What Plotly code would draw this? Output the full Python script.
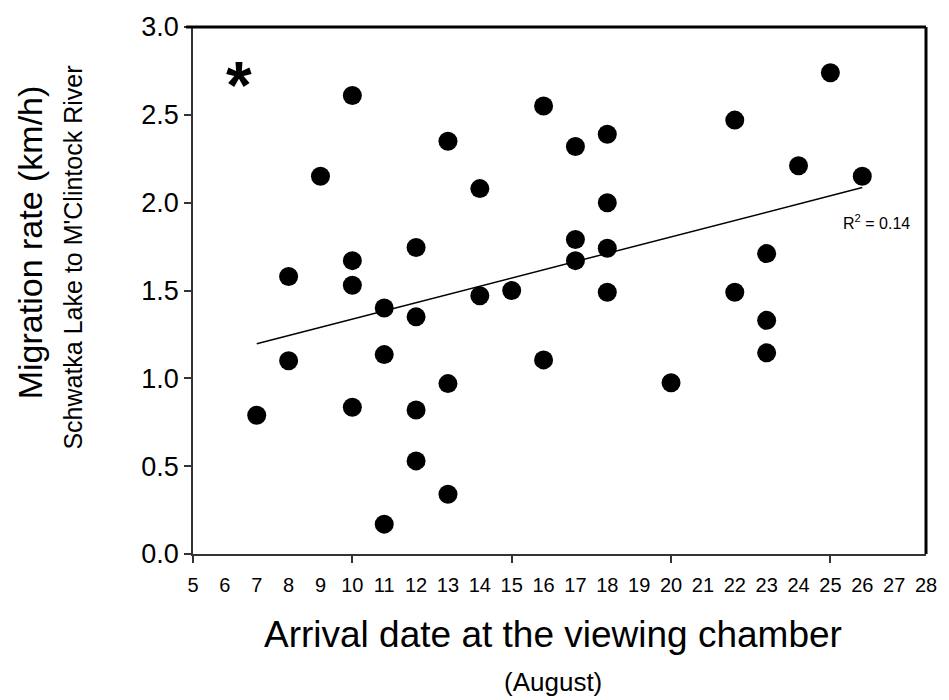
import plotly.graph_objects as go

# Arrival date (August day) and migration rate (km/h)
arrival_day = [7, 8, 8, 9, 10, 10, 10, 10, 11, 11, 11, 12, 12, 12, 12,
               13, 13, 13, 14, 14, 15, 16, 16, 17, 17, 17, 18, 18, 18, 18,
               20, 22, 22, 23, 23, 23, 24, 25, 26]
migration_rate = [0.79, 1.58, 1.10, 2.15, 2.61, 1.67, 1.53, 0.835, 1.40, 1.135, 0.17,
                  1.745, 1.35, 0.82, 0.53, 2.35, 0.97, 0.34, 2.08, 1.47, 1.50,
                  2.55, 1.105, 2.32, 1.79, 1.67, 2.39, 2.00, 1.74, 1.49,
                  0.975, 2.47, 1.49, 1.71, 1.33, 1.145, 2.21, 2.74, 2.15]

# Regression line end points
trend_x = [7, 26]
trend_y = [1.197, 2.086]

x_tick_labels = [str(d) for d in range(5, 29)]
x_major_ticks = [5, 10, 15, 20, 25]
y_ticks = [0.0, 0.5, 1.0, 1.5, 2.0, 2.5, 3.0]

FONT = "Liberation Sans, Arial, sans-serif"

fig = go.Figure()
fig.add_trace(go.Scatter(x=trend_x, y=trend_y, mode="lines",
                         line=dict(color="black", width=1.5), showlegend=False,
                         hoverinfo="skip"))
fig.add_trace(go.Scatter(x=arrival_day, y=migration_rate, mode="markers",
                         marker=dict(color="black", size=19, line=dict(width=0)),
                         showlegend=False))
fig.add_trace(go.Scatter(x=trend_x, y=trend_y, mode="lines", xaxis="x2",
                         line=dict(color="rgba(0,0,0,0)", width=0), showlegend=False,
                         hoverinfo="skip"))

fig.update_layout(
    width=949, height=700,
    margin=dict(l=193, r=12, t=20, b=146),
    paper_bgcolor="white", plot_bgcolor="white",
    font=dict(family=FONT, color="black"),
    xaxis=dict(range=[5, 28], tickmode="array",
               tickvals=list(range(5, 29)), ticktext=x_tick_labels,
               ticks="", showgrid=False, zeroline=False,
               showline=True, linecolor="#333", linewidth=1.5,
               tickfont=dict(size=20, family=FONT, color="black"),
               ticklabelstandoff=12),
    xaxis2=dict(range=[5, 28], overlaying="x", matches="x", side="bottom",
                tickmode="array", tickvals=x_major_ticks, showticklabels=False,
                ticks="outside", ticklen=8, tickwidth=1.5, tickcolor="#333",
                showgrid=False, zeroline=False, showline=False),
    yaxis=dict(range=[0, 3.0], tickmode="array", tickvals=y_ticks,
               ticktext=[f"{v:.1f}" for v in y_ticks],
               ticks="outside", ticklen=7, tickwidth=1.5, tickcolor="#333",
               showgrid=False, zeroline=False,
               showline=True, linecolor="#333", linewidth=1.5,
               tickfont=dict(size=27, family=FONT, color="black")),
)

# top and right frame lines
fig.add_shape(type="line", xref="paper", yref="paper", x0=-0.0095, x1=1.0, y0=1, y1=1,
              line=dict(color="black", width=3))
fig.add_shape(type="line", xref="paper", yref="paper", x0=1.0, x1=1.0, y0=0, y1=1,
              line=dict(color="black", width=3))

ann = [
    dict(text="Migration rate (km/h)", x=-0.222, y=0.592, textangle=-90,
         font=dict(size=34)),
    dict(text="Schwatka Lake to M'Clintock River", x=-0.164, y=0.562, textangle=-90,
         font=dict(size=25)),
    dict(text="Arrival date at the viewing chamber", x=0.4906, y=-0.1536,
         font=dict(size=37)),
    dict(text="(August)", x=0.4906, y=-0.2434, font=dict(size=26)),
]
for a in ann:
    fig.add_annotation(xref="paper", yref="paper", showarrow=False,
                       xanchor="center", yanchor="middle", **a)

fig.add_annotation(x=26.45, y=1.89, xref="x", yref="y", showarrow=False,
                   text="R<sup>2</sup> = 0.14", font=dict(size=16),
                   xanchor="center", yanchor="middle")
fig.add_annotation(x=6.45, y=2.67, xref="x", yref="y", showarrow=False,
                   text="<b>*</b>", font=dict(size=66),
                   xanchor="center", yanchor="middle")

fig.write_html("out.html", post_script="document.body.style.margin='0';",
               config={"displayModeBar": False})
